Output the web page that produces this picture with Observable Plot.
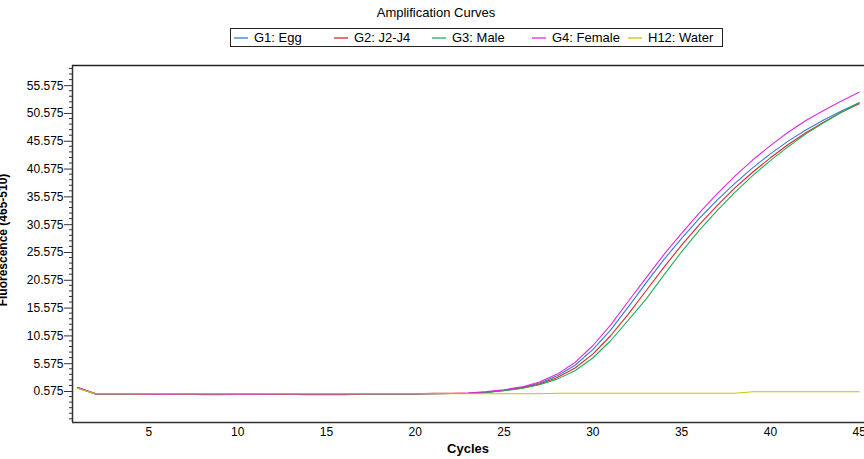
<!DOCTYPE html>
<html>
<head>
<meta charset="utf-8">
<script src="https://cdn.jsdelivr.net/npm/d3@7"></script>
<script src="https://cdn.jsdelivr.net/npm/@observablehq/plot@0.6"></script>
<style>
  html, body { margin: 0; padding: 0; background: #fff; }
  #wrap { position: relative; width: 864px; height: 459px; overflow: hidden; font-family: "Liberation Sans", Arial, sans-serif; }
  #wrap > svg { position: absolute; left: 0; top: 0; }
  .ov { position: absolute; white-space: nowrap; color: #000; }
  #title { left: 436px; top: 12px; transform: translate(-50%, -50%); font-size: 13px; }
  #legend { left: 230px; top: 28px; width: 491px; height: 17px; border: 1px solid #222; }
  .li { position: absolute; top: 0; height: 17px; display: flex; align-items: center; font-size: 13px; }
  .li svg { margin-right: 6px; display: block; }
  #xlab { left: 468px; top: 448px; transform: translate(-50%, -50%); font-size: 13px; font-weight: bold; }
  #ylab { left: 3px; top: 240px; transform: translate(-50%, -50%) rotate(-90deg); font-size: 12px; font-weight: bold; }
</style>
</head>
<body>
<div id="wrap"></div>
<script>
// ---- data ----
const cycles = [1,2,3,4,5,6,7,8,9,10,11,12,13,14,15,16,17,18,19,20,21,22,23,24,25,26,27,28,29,30,31,32,33,34,35,36,37,38,39,40,41,42,43,44,45];

const seriesNames = ["G1: Egg", "G2: J2-J4", "G3: Male", "G4: Female", "H12: Water"];
const seriesColors = ["#2b7fd4", "#e02626", "#1cb05a", "#e028e0", "#c8c400"];

const g1Egg = [1.2,0.15,0.15,0.15,0.12,0.12,0.18,0.12,0.1,0.1,0.1,0.1,0.1,0.08,0.08,0.1,0.12,0.14,0.15,0.15,0.2,0.22,0.26,0.45,0.8,1.3,2.1,3.4,5.3,8.1,11.6,15.8,20.1,24.3,28.1,31.7,35.0,38.0,40.8,43.3,45.6,47.6,49.4,51.0,52.5];
const g2J2J4 = [1.3,0.15,0.15,0.15,0.12,0.1,0.1,0.1,0.1,0.1,0.1,0.1,0.05,0.0,0.0,0.0,0.12,0.12,0.12,0.14,0.27,0.27,0.27,0.42,0.75,1.2,1.9,3.1,4.8,7.3,10.6,14.5,18.7,22.9,26.9,30.6,34.0,37.2,40.0,42.6,45.0,47.1,49.0,50.8,52.3];
const g3Male = [1.2,0.15,0.15,0.15,0.12,0.1,0.12,0.02,0.02,0.05,0.08,0.1,0.1,0.1,0.1,0.1,0.12,0.14,0.15,0.15,0.2,0.22,0.24,0.4,0.7,1.1,1.8,2.8,4.3,6.6,9.7,13.4,17.2,21.5,25.7,29.6,33.1,36.4,39.4,42.1,44.6,46.9,48.9,50.8,52.5];
const g4Female = [1.3,0.15,0.15,0.15,0.1,0.05,0.12,0.1,0.1,0.05,0.05,0.1,0.1,0.1,0.1,0.1,0.12,0.14,0.15,0.15,0.2,0.22,0.3,0.55,0.9,1.4,2.3,3.7,5.8,8.8,12.5,16.8,21.0,25.2,29.0,32.7,36.1,39.3,42.2,44.8,47.2,49.3,51.1,52.8,54.4];
const h12Water = [1.1,0.16,0.16,0.16,0.16,0.16,0.16,0.16,0.16,0.16,0.16,0.16,0.16,0.16,0.16,0.16,0.16,0.16,0.16,0.16,0.16,0.16,0.16,0.16,0.16,0.16,0.16,0.27,0.27,0.27,0.27,0.27,0.27,0.27,0.27,0.27,0.27,0.27,0.52,0.52,0.52,0.52,0.52,0.52,0.52];

const yTickValues = [0.575,5.575,10.575,15.575,20.575,25.575,30.575,35.575,40.575,45.575,50.575,55.575];
const xTickValues = [5,10,15,20,25,30,35,40,45];

const titleText = "Amplification Curves";
const xLabel = "Cycles";
const yLabel = "Fluorescence (465-510)";

// ---- build ----
const seriesValues = [g1Egg, g2J2J4, g3Male, g4Female, h12Water];
const rows = [];
seriesValues.forEach((vals, si) => {
  vals.forEach((v, i) => rows.push({series: seriesNames[si], cycle: cycles[i], value: v}));
});

const xDomain = [0.7, 45.3];
const yDomain = [-5, 59.2];
const minorTicks = d3.range(-4.425, 59, 1).filter(t => !yTickValues.some(m => Math.abs(m - t) < 1e-6));

const chart = Plot.plot({
  width: 864,
  height: 459,
  marginLeft: 72,
  marginRight: 0,
  marginTop: 65,
  marginBottom: 37,
  style: {fontFamily: "'Liberation Sans', Arial, sans-serif", fontSize: "12px", color: "#000", background: "transparent"},
  x: {type: "linear", domain: xDomain, label: null},
  y: {type: "linear", domain: yDomain, label: null},
  color: {domain: seriesNames, range: seriesColors},
  marks: [
    Plot.axisX({ticks: xTickValues, tickSize: 0, tickPadding: 5, label: null, tickFormat: d => String(d)}),
    Plot.axisY({ticks: yTickValues, tickSize: 8, tickPadding: 1, label: null, stroke: "#333", tickFormat: d => d.toFixed(3)}),
    Plot.line(rows, {x: "cycle", y: "value", z: "series", stroke: "series", strokeWidth: 1.1}),
    Plot.ruleX([xDomain[0]], {stroke: "#333", strokeWidth: 1.5}),
    Plot.ruleY([yDomain[0]], {stroke: "#333", strokeWidth: 1.5}),
    Plot.ruleY([yDomain[1]], {stroke: "#222", strokeWidth: 1.5})
  ]
});

const wrap = document.getElementById("wrap");
wrap.appendChild(chart);

// minor ticks: short 3px segments left of the y axis
const xs = chart.scale("x"), ys = chart.scale("y");
const svg = d3.select(chart);
const mg = svg.append("g").attr("stroke", "#333").attr("stroke-width", 1);
minorTicks.forEach(t => {
  const py = ys.apply(t);
  mg.append("line").attr("x1", xs.apply(xDomain[0]) - 3).attr("x2", xs.apply(xDomain[0])).attr("y1", py).attr("y2", py);
});

// overlays
const t = document.createElement("div"); t.className = "ov"; t.id = "title"; t.textContent = titleText; wrap.appendChild(t);
const lg = document.createElement("div"); lg.className = "ov"; lg.id = "legend"; wrap.appendChild(lg);
const legendLefts = [3, 103, 201, 301, 397];
const color = chart.scale("color");
seriesNames.forEach((n, i) => {
  const it = document.createElement("div"); it.className = "li"; it.style.left = legendLefts[i] + "px";
  const sw = d3.create("svg").attr("width", 14).attr("height", 4);
  sw.append("line").attr("x1", 0).attr("x2", 14).attr("y1", 2).attr("y2", 2)
    .attr("stroke", color.apply(n)).attr("stroke-width", 1.3);
  const tx = document.createElement("span"); tx.textContent = n;
  it.appendChild(sw.node()); it.appendChild(tx); lg.appendChild(it);
});
const xl = document.createElement("div"); xl.className = "ov"; xl.id = "xlab"; xl.textContent = xLabel; wrap.appendChild(xl);
const yl = document.createElement("div"); yl.className = "ov"; yl.id = "ylab"; yl.textContent = yLabel; wrap.appendChild(yl);
</script>
</body>
</html>
